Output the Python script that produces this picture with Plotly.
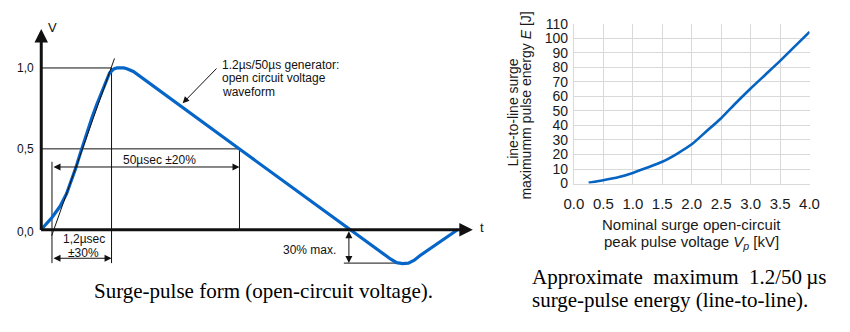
import plotly.graph_objects as go

W, H = 850, 332

# ---------------- Surge-pulse waveform (normalised time, V / V_peak) ----------------
wave_t = [0.0, 0.23, 2.55, 4.48, 6.03, 7.19, 8.19, 9.12, 10.05, 11.07, 12.06, 13.16,
          14.32, 15.31, 16.24, 17.24, 18.0, 18.79, 19.6, 20.35, 21.88, 46.94, 73.4,
          83.06, 84.45, 85.85, 87.24, 88.63, 90.02, 98.91]
wave_v = [0.0, 0.008, 0.076, 0.145, 0.224, 0.302, 0.381, 0.459, 0.537, 0.616, 0.694,
          0.772, 0.851, 0.919, 0.969, 0.994, 1.0, 1.0, 1.0, 0.995, 0.978, 0.502, 0.0,
          -0.182, -0.203, -0.209, -0.206, -0.188, -0.159, 0.0]

# front-time tangent through the 30 % / 90 % points
tangent_t = [2.48, 17.4]
tangent_v = [-0.037, 1.059]

t_origin = 2.55      # virtual origin O1
t_front = 16.7       # end of front time (1.2 us)
t_half = 47.1        # time to half value (50 us)
t_under = 73.1       # undershoot dimension line
v_under = -0.206     # maximum undershoot (30 % max.)
t_axis_end = 102.55
v_axis_end = 1.241

v_ticks = [0.0, 0.5, 1.0]
v_tick_text = ["0,0", "0,5", "1,0"]

# ---------------- Surge-pulse energy vs. peak voltage ----------------
peak_kv = [0.25, 0.5, 0.75, 1.0, 1.25, 1.5, 1.75, 2.0, 2.25, 2.5, 2.75, 3.0,
           3.25, 3.5, 3.75, 4.0]
energy_j = [0.5, 2.3, 4.3, 7.3, 11.0, 15.0, 20.5, 27.0, 36.0, 45.0, 55.5, 65.5,
            75.0, 84.5, 94.5, 104.5]
kv_ticks = [0.0, 0.5, 1.0, 1.5, 2.0, 2.5, 3.0, 3.5, 4.0]
j_ticks = list(range(0, 111, 10))

BLUE = "#0565c8"
SANS = "Liberation Sans, Arial, sans-serif"
SERIF = "Liberation Serif, Times New Roman, serif"


def dom_x(p0, p1):
    return [p0 / W, p1 / W]


def dom_y(top, bottom):
    return [(H - bottom) / H, (H - top) / H]


fig = go.Figure()

fig.add_trace(go.Scatter(x=wave_t, y=wave_v, mode="lines",
                         line=dict(color=BLUE, width=3.2),
                         xaxis="x", yaxis="y", hoverinfo="skip"))
fig.add_trace(go.Scatter(x=tangent_t, y=tangent_v, mode="lines",
                         line=dict(color="#111", width=1),
                         xaxis="x", yaxis="y", hoverinfo="skip"))

fig.add_trace(go.Scatter(x=peak_kv, y=energy_j, mode="lines",
                         line=dict(color="#0563c1", width=2.6, shape="spline", smoothing=0.6),
                         xaxis="x2", yaxis="y2", hoverinfo="skip"))

# guide lines of the waveform sketch
guides = [
    (0, 1.0, t_front, 1.0),
    (t_front, 1.0, t_front, v_under),
    (0, 0.5, t_half, 0.5),
    (t_half, 0.5, t_half, 0.0),
    (t_origin, 0.42, t_origin, v_under),
    (t_under - 1.2, v_under, 87.2, v_under),
]
for x0, y0, x1, y1 in guides:
    fig.add_shape(type="line", xref="x", yref="y", x0=x0, y0=y0, x1=x1, y1=y1,
                  line=dict(color="#111", width=1), layer="below")

ann = []


def arrow(x, y, ax, ay, width=1.0, size=1.4, both=False, color="#111"):
    ann.append(dict(x=x, y=y, ax=ax, ay=ay, xref="x", yref="y", axref="x", ayref="y",
                    text="", showarrow=True, arrowhead=2, arrowsize=size,
                    arrowwidth=width, arrowcolor=color,
                    arrowside="end+start" if both else "end", standoff=0,
                    startstandoff=0))


# axes with arrow tips
arrow(t_axis_end, 0, -0.4, 0, width=3, size=0.9)
arrow(0, v_axis_end, 0, -0.01, width=3, size=0.9)

# dimension arrows
arrow(t_half, 0.388, t_origin, 0.388, both=True)
arrow(t_front, -0.176, t_origin, -0.176, both=True)
arrow(t_under, v_under, t_under, 0.0, both=True)
arrow(33.6, 0.782, 42.0, 1.006, size=1.3)


def label(x, y, text, size=12, xanchor="center", yanchor="middle", xshift=0, yshift=0,
          xref="x", yref="y", font=SANS, color="#111", angle=0):
    ann.append(dict(x=x, y=y, xref=xref, yref=yref, text=text, showarrow=False,
                    xanchor=xanchor, yanchor=yanchor, xshift=xshift, yshift=yshift,
                    textangle=angle, font=dict(family=font, size=size, color=color)))


for v, s in zip(v_ticks, v_tick_text):
    label(0, v, s, xanchor="right", xshift=-5, yshift=-2 if v == 0 else 0)
label(0, v_axis_end, "V", xanchor="left", xshift=5, yshift=1, size=13)
label(t_axis_end, 0, "t", xanchor="left", xshift=5, yshift=2, size=13)

label(28.1, 0.43, "50µsec ±20%")
label(10.2, -0.059, "1,2µsec")
label(10.0, -0.141, "±30%")
label(63.8, -0.124, "30% max.")
label(42.46, 1.018, "1.2µs/50µs generator:", xanchor="left")
label(42.46, 0.935, "open circuit voltage", xanchor="left")
label(42.46, 0.853, "waveform", xanchor="left")

# captions
label(260 / W, (H - 297) / H, "Surge-pulse form (open-circuit voltage).", size=21,
      xref="paper", yref="paper", font=SERIF, color="#000")
label(533 / W, (H - 283) / H,
      "Approximate\u00a0\u00a0maximum\u00a0\u00a01.2/50\u2009µs", size=21,
      xanchor="left", xref="paper", yref="paper", font=SERIF, color="#000")
label(533 / W, (H - 307) / H, "surge-pulse energy (line-to-line).", size=21,
      xanchor="left", xref="paper", yref="paper", font=SERIF, color="#000")

# titles of the energy chart
label(2.0, (H - 227) / H, "Nominal surge open-circuit", size=15,
      xref="x2", yref="paper", color="#1a1a1a")
label(2.0, (H - 246) / H, "peak pulse voltage <i>V<sub>p</sub></i> [kV]", size=15,
      xref="x2", yref="paper", color="#1a1a1a")
label(515 / W, (H - 110) / H, "Line-to-line surge", size=14, angle=-90,
      xref="paper", yref="paper", color="#1a1a1a")
label(528 / W, (H - 103) / H, "maximumm pulse energy <i>E</i> [J]", size=14, angle=-90,
      xref="paper", yref="paper", color="#1a1a1a")

GRID = "#d9d9d9"
fig.update_layout(
    width=W, height=H, margin=dict(l=0, r=0, t=0, b=0),
    paper_bgcolor="white", plot_bgcolor="white", showlegend=False,
    annotations=ann,
    xaxis=dict(domain=dom_x(32 - 3 * 4.31, 32 + 104 * 4.31), range=[-3, 104],
               visible=False, fixedrange=True),
    yaxis=dict(domain=dom_y(233 - 1.3 * 170, 233 + 0.3 * 170), range=[-0.3, 1.3],
               visible=False, fixedrange=True),
    xaxis2=dict(domain=dom_x(577.5, 818.8), range=[0, 4], anchor="y2",
                tickvals=kv_ticks, tickformat=".1f", showgrid=True, gridcolor=GRID,
                gridwidth=1, zeroline=False, showline=True, linecolor=GRID,
                ticks="", ticklabelstandoff=6,
                tickfont=dict(family=SANS, size=15, color="#1a1a1a")),
    yaxis2=dict(domain=dom_y(16.7, 184.4), range=[0, 110], anchor="x2",
                tickvals=j_ticks, showgrid=True, gridcolor=GRID, gridwidth=1,
                zeroline=False, showline=True, linecolor=GRID, ticks="",
                ticklabelstandoff=2,
                tickfont=dict(family=SANS, size=14, color="#1a1a1a")),
)

fig.write_html("out.html")
